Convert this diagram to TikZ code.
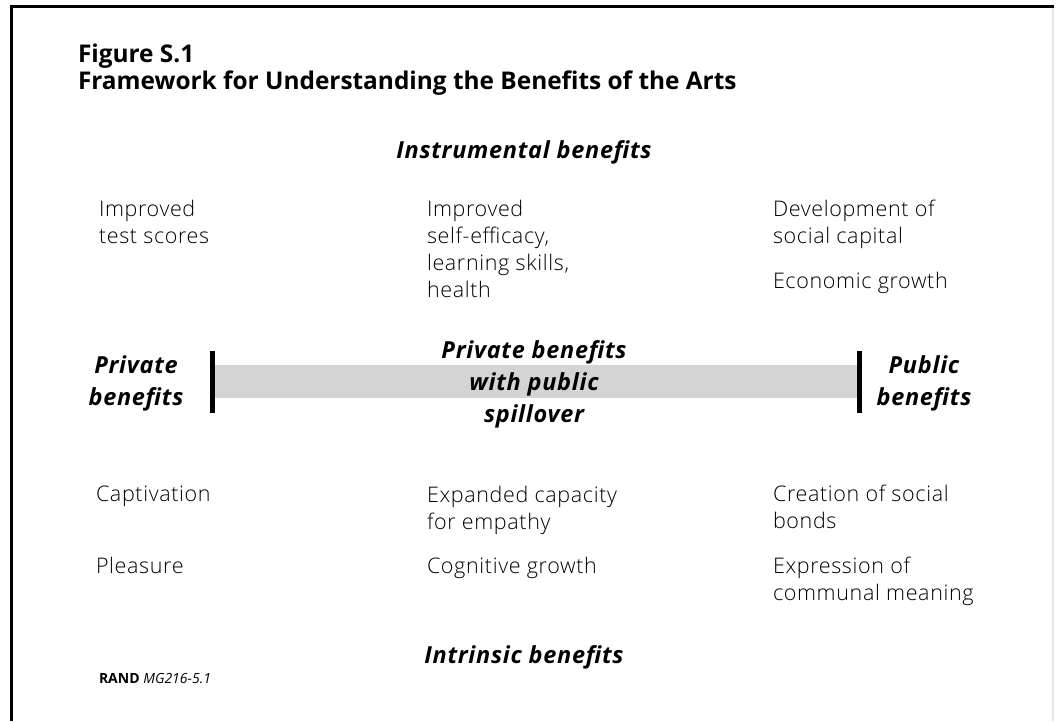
\documentclass[tikz,border=0pt]{standalone}
\usepackage{fontspec}
\setmainfont{Open Sans}
\newfontfamily\airyfam{Open Sans Light}[LetterSpace=3]
\newfontfamily\headfam{Open Sans}[LetterSpace=3]
% lines of a block set one under the other, baseline of the block = first line
\newcommand\txtlines[2][l]{\begin{tabular}[t]{@{}#1@{}}#2\end{tabular}}
\definecolor{bandgray}{HTML}{D4D4D4}
\definecolor{edgegray}{HTML}{E6E6E6}
\begin{document}
\begin{tikzpicture}[x=1pt,y=-1pt,
  every node/.style={inner sep=0pt,outer sep=0pt},
  title/.style={anchor=base west,font=\fontsize{24.4}{27}\selectfont\bfseries},
  body/.style={anchor=base west,font=\airyfam\fontsize{21.5}{27}\selectfont},
  head/.style={anchor=base,font=\headfam\fontsize{23.5}{32}\selectfont\bfseries\itshape},
  endbar/.style={line width=5pt},
]
\useasboundingbox (0,0) rectangle (1061,721);
\fill[white] (0,0) rectangle (1061,721);

% frame
\draw[edgegray,line width=1.5pt] (1053,8) -- (1053,721);
\draw[line width=3pt] (11.5,5) -- (11.5,721);
\draw[line width=3pt] (10,6.5) -- (1054,6.5);

% title
\node[title] (fig) at (78,62) {Figure S.1};
\node[title] (ttl) at (78,89) {Framework for Understanding the Benefits of the Arts};

% instrumental benefits
\node[head] (instr) at (524,158) {Instrumental benefits};
\node[body] (scores) at (99,216) {\txtlines{Improved\\test scores}};
\node[body] (selfeff) at (427,216) {\txtlines{Improved\\self-efficacy,\\learning skills,\\health}};
\node[body] (capital) at (773,216) {\txtlines{Development of\\social capital}};
\node[body] (growth) at (773,288) {Economic growth};

% private / public axis
\fill[bandgray] (215,365) rectangle (857,398);
\draw[endbar] (212.5,351) -- (212.5,413);
\draw[endbar] (859,351) -- (859,413);
\node[head] (priv) at (136,373) {\txtlines[c]{Private\\benefits}};
\node[head] (spill) at (534,358) {\txtlines[c]{Private benefits\\with public\\spillover}};
\node[head] (publ) at (924,373) {\txtlines[c]{Public\\benefits}};

% intrinsic benefits
\node[body] (captiv) at (96,501) {Captivation};
\node[body] (pleas) at (96,573) {Pleasure};
\node[body] (empathy) at (427,502) {\txtlines{Expanded capacity\\for empathy}};
\node[body] (cogn) at (427,573) {Cognitive growth};
\node[body] (bonds) at (773,501) {\txtlines{Creation of social\\bonds}};
\node[body] (meaning) at (773,573) {\txtlines{Expression of\\communal meaning}};
\node[head] (intr) at (524,663) {Intrinsic benefits};

% source tag
\node[anchor=base west,font=\fontsize{14}{16}\selectfont] (tag) at (99,683) {\textbf{RAND} \textit{MG216-5.1}};
\end{tikzpicture}
\end{document}
